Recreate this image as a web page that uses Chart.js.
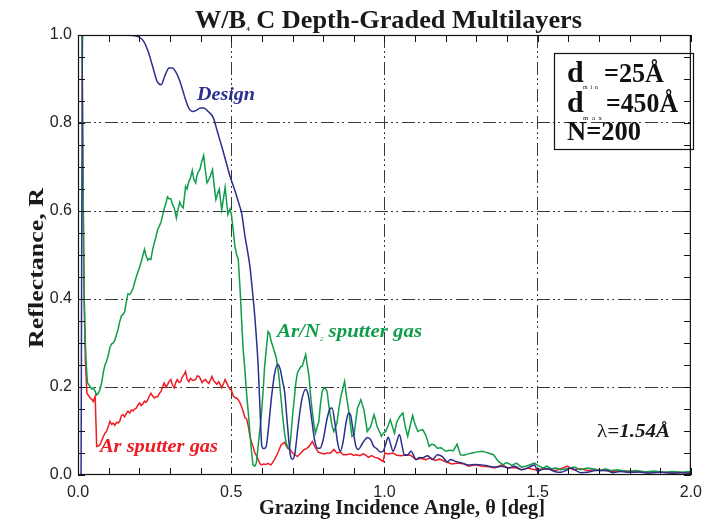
<!DOCTYPE html>
<html>
<head>
<meta charset="utf-8">
<script src="https://cdn.jsdelivr.net/npm/chart.js@4.4.1/dist/chart.umd.min.js"></script>
<style>
  html, body { margin: 0; padding: 0; background: #fff; }
  #wrap { width: 710px; height: 523px; }
</style>
</head>
<body>
<div id="wrap"><canvas id="reflChart" width="710" height="523"></canvas></div>
<script>
// Reflectance vs grazing angle, theoretical design and two measured samples
const designAngle = [0.010,0.015,0.100,0.180,0.200,0.215,0.230,0.245,0.258,0.271,0.285,0.297,0.308,0.320,0.335,0.350,0.362,0.373,0.385,0.400,0.410,0.425,0.442,0.455,0.469,0.483,0.496,0.508,0.518,0.528,0.534,0.545,0.553,0.561,0.569,0.577,0.588,0.594,0.600,0.606,0.614,0.622,0.632,0.642,0.652,0.660,0.667,0.674,0.684,0.693,0.700,0.708,0.718,0.730,0.743,0.752,0.762,0.772,0.782,0.790,0.800,0.812,0.822,0.829,0.838,0.848,0.856,0.865,0.875,0.883,0.890,0.898,0.907,0.915,0.925,0.932,0.945,0.955,0.965,0.975,0.987,0.996,1.004,1.012,1.020,1.028,1.038,1.049,1.057,1.065,1.075,1.087,1.097,1.103,1.114,1.125,1.141,1.157,1.173,1.189,1.205,1.216,1.232,1.254,1.275,1.296,1.318,1.340,1.361,1.383,1.404,1.425,1.447,1.468,1.479,1.490,1.500,1.511,1.533,1.555,1.575,1.597,1.608,1.625,1.641,1.662,1.690,1.726,1.745,1.770,1.800,1.830,1.860,1.900,1.940,1.970,2.000];
const designR = [0.000,1.000,1.000,0.999,0.995,0.985,0.960,0.925,0.895,0.887,0.910,0.925,0.925,0.915,0.890,0.855,0.833,0.826,0.828,0.834,0.834,0.826,0.811,0.780,0.747,0.712,0.679,0.655,0.633,0.610,0.595,0.542,0.510,0.474,0.420,0.360,0.247,0.150,0.065,0.060,0.065,0.110,0.180,0.232,0.251,0.240,0.215,0.190,0.110,0.045,0.036,0.050,0.110,0.170,0.195,0.180,0.130,0.080,0.061,0.061,0.080,0.125,0.150,0.152,0.120,0.070,0.054,0.075,0.120,0.141,0.135,0.100,0.065,0.058,0.068,0.076,0.085,0.080,0.065,0.060,0.052,0.054,0.070,0.086,0.070,0.054,0.070,0.092,0.068,0.046,0.045,0.054,0.042,0.035,0.040,0.039,0.044,0.035,0.046,0.042,0.030,0.035,0.031,0.027,0.023,0.024,0.023,0.020,0.018,0.020,0.016,0.020,0.012,0.016,0.020,0.023,0.008,0.012,0.014,0.008,0.006,0.012,0.016,0.010,0.005,0.006,0.010,0.010,0.005,0.008,0.006,0.007,0.004,0.006,0.004,0.005,0.004];

const arN2Angle = [0.008,0.013,0.016,0.020,0.024,0.027,0.031,0.040,0.045,0.050,0.056,0.061,0.066,0.072,0.077,0.083,0.088,0.093,0.099,0.104,0.110,0.115,0.120,0.126,0.131,0.136,0.142,0.147,0.152,0.158,0.163,0.169,0.174,0.180,0.185,0.190,0.195,0.201,0.206,0.212,0.217,0.222,0.228,0.233,0.238,0.243,0.249,0.254,0.260,0.265,0.271,0.276,0.281,0.287,0.292,0.297,0.303,0.308,0.314,0.321,0.326,0.332,0.337,0.343,0.347,0.351,0.356,0.362,0.367,0.373,0.378,0.384,0.388,0.392,0.398,0.403,0.410,0.415,0.421,0.426,0.432,0.439,0.444,0.450,0.455,0.461,0.465,0.469,0.475,0.480,0.485,0.489,0.496,0.501,0.506,0.512,0.518,0.523,0.529,0.534,0.539,0.545,0.550,0.556,0.561,0.566,0.571,0.577,0.582,0.590,0.598,0.604,0.609,0.615,0.620,0.625,0.630,0.636,0.642,0.647,0.652,0.657,0.663,0.668,0.674,0.679,0.685,0.690,0.695,0.700,0.706,0.711,0.716,0.722,0.727,0.732,0.738,0.743,0.748,0.754,0.759,0.765,0.770,0.775,0.781,0.786,0.791,0.797,0.802,0.808,0.813,0.818,0.824,0.829,0.835,0.840,0.845,0.851,0.858,0.864,0.870,0.876,0.883,0.889,0.894,0.901,0.906,0.912,0.918,0.923,0.928,0.933,0.939,0.944,0.950,0.955,0.960,0.966,0.971,0.976,0.983,0.990,0.996,1.004,1.012,1.019,1.026,1.033,1.040,1.049,1.055,1.060,1.068,1.076,1.084,1.092,1.100,1.109,1.117,1.125,1.135,1.146,1.154,1.162,1.173,1.185,1.200,1.212,1.225,1.237,1.248,1.260,1.273,1.286,1.300,1.318,1.330,1.339,1.356,1.372,1.388,1.396,1.404,1.415,1.431,1.447,1.460,1.470,1.490,1.500,1.517,1.530,1.545,1.560,1.575,1.597,1.620,1.640,1.662,1.680,1.705,1.720,1.740,1.760,1.790,1.820,1.850,1.880,1.910,1.940,1.970,2.000];
const arN2R = [1.000,1.000,0.709,0.406,0.300,0.250,0.209,0.201,0.195,0.198,0.190,0.182,0.185,0.195,0.209,0.235,0.250,0.258,0.272,0.290,0.298,0.300,0.306,0.320,0.332,0.348,0.362,0.365,0.370,0.395,0.412,0.410,0.416,0.425,0.438,0.450,0.460,0.472,0.484,0.500,0.513,0.498,0.488,0.492,0.490,0.510,0.528,0.540,0.558,0.565,0.575,0.590,0.604,0.618,0.632,0.628,0.628,0.615,0.607,0.584,0.602,0.620,0.612,0.607,0.630,0.656,0.650,0.668,0.675,0.692,0.672,0.664,0.680,0.688,0.695,0.710,0.726,0.695,0.664,0.670,0.680,0.694,0.660,0.626,0.638,0.650,0.625,0.603,0.630,0.654,0.620,0.592,0.605,0.590,0.560,0.520,0.500,0.490,0.421,0.350,0.285,0.235,0.186,0.140,0.095,0.055,0.023,0.020,0.027,0.080,0.133,0.190,0.247,0.290,0.326,0.322,0.305,0.292,0.278,0.266,0.245,0.215,0.170,0.133,0.095,0.073,0.062,0.058,0.090,0.133,0.175,0.210,0.232,0.240,0.246,0.248,0.262,0.274,0.250,0.224,0.180,0.141,0.115,0.095,0.110,0.122,0.160,0.190,0.198,0.196,0.190,0.160,0.133,0.112,0.099,0.108,0.118,0.150,0.179,0.196,0.213,0.180,0.148,0.115,0.088,0.092,0.120,0.152,0.162,0.171,0.160,0.148,0.122,0.099,0.105,0.110,0.122,0.137,0.125,0.110,0.100,0.088,0.095,0.099,0.112,0.126,0.110,0.095,0.120,0.132,0.137,0.141,0.110,0.088,0.112,0.135,0.115,0.099,0.102,0.103,0.090,0.065,0.070,0.069,0.061,0.062,0.054,0.056,0.055,0.070,0.046,0.045,0.048,0.050,0.052,0.054,0.052,0.050,0.046,0.031,0.023,0.028,0.027,0.022,0.027,0.018,0.020,0.022,0.027,0.022,0.016,0.020,0.014,0.016,0.012,0.014,0.018,0.012,0.016,0.014,0.010,0.014,0.010,0.012,0.008,0.010,0.007,0.009,0.006,0.008,0.006,0.008];

const arAngle = [0.008,0.013,0.016,0.019,0.022,0.024,0.029,0.035,0.040,0.045,0.050,0.056,0.061,0.066,0.072,0.077,0.083,0.088,0.093,0.099,0.104,0.110,0.115,0.120,0.126,0.131,0.136,0.142,0.147,0.152,0.158,0.163,0.169,0.174,0.180,0.185,0.190,0.195,0.201,0.206,0.212,0.217,0.222,0.228,0.233,0.238,0.243,0.249,0.254,0.260,0.265,0.271,0.276,0.281,0.287,0.292,0.297,0.303,0.308,0.314,0.319,0.324,0.330,0.335,0.340,0.346,0.351,0.356,0.362,0.367,0.373,0.378,0.384,0.389,0.395,0.400,0.405,0.411,0.416,0.421,0.427,0.432,0.437,0.443,0.448,0.453,0.459,0.464,0.469,0.475,0.480,0.485,0.491,0.496,0.501,0.507,0.512,0.517,0.523,0.530,0.539,0.545,0.550,0.556,0.561,0.566,0.571,0.577,0.582,0.588,0.593,0.598,0.605,0.612,0.620,0.630,0.641,0.652,0.663,0.674,0.684,0.692,0.700,0.708,0.716,0.727,0.738,0.746,0.754,0.765,0.775,0.784,0.792,0.803,0.813,0.824,0.835,0.845,0.856,0.866,0.877,0.888,0.899,0.910,0.920,0.930,0.937,0.948,0.958,0.969,0.980,0.990,0.996,1.001,1.012,1.028,1.040,1.055,1.070,1.085,1.103,1.118,1.135,1.150,1.165,1.180,1.200,1.220,1.240,1.260,1.275,1.295,1.318,1.340,1.360,1.383,1.404,1.425,1.447,1.468,1.490,1.511,1.533,1.555,1.575,1.597,1.615,1.640,1.662,1.690,1.720,1.750,1.780,1.810,1.840,1.870,1.900,1.930,1.960,2.000];
const arR = [1.000,1.000,0.700,0.450,0.330,0.260,0.186,0.180,0.175,0.172,0.167,0.179,0.065,0.066,0.069,0.078,0.088,0.095,0.099,0.110,0.122,0.115,0.118,0.113,0.120,0.118,0.122,0.135,0.137,0.132,0.140,0.145,0.141,0.148,0.146,0.150,0.152,0.158,0.164,0.158,0.162,0.168,0.165,0.171,0.180,0.186,0.180,0.175,0.178,0.178,0.185,0.190,0.200,0.209,0.200,0.205,0.212,0.217,0.205,0.198,0.210,0.217,0.210,0.212,0.222,0.228,0.235,0.218,0.212,0.220,0.216,0.215,0.217,0.225,0.224,0.218,0.210,0.215,0.217,0.212,0.208,0.216,0.224,0.214,0.210,0.206,0.212,0.206,0.198,0.208,0.217,0.210,0.200,0.195,0.192,0.179,0.176,0.175,0.171,0.162,0.145,0.130,0.128,0.110,0.088,0.075,0.065,0.050,0.045,0.035,0.027,0.023,0.025,0.024,0.026,0.023,0.035,0.050,0.069,0.074,0.061,0.058,0.050,0.046,0.042,0.050,0.058,0.060,0.065,0.076,0.062,0.052,0.050,0.048,0.050,0.050,0.058,0.050,0.052,0.046,0.046,0.048,0.045,0.046,0.044,0.048,0.046,0.040,0.044,0.040,0.038,0.033,0.031,0.050,0.048,0.050,0.045,0.044,0.046,0.045,0.035,0.038,0.035,0.039,0.033,0.036,0.030,0.025,0.027,0.025,0.020,0.023,0.020,0.019,0.016,0.023,0.016,0.017,0.012,0.016,0.012,0.013,0.014,0.010,0.014,0.020,0.012,0.014,0.010,0.012,0.010,0.008,0.010,0.007,0.008,0.006,0.007,0.005,0.006,0.004];

const xTickLabels = ['0.0', '0.5', '1.0', '1.5', '2.0'];
const yTickLabels = ['0.0', '0.2', '0.4', '0.6', '0.8', '1.0'];

const BLUE = '#2b2f8e';
const GREEN = '#0f9d4a';
const RED = '#ed1c24';
const SERIF = '"Liberation Serif", "Times New Roman", serif';

function toPoints(xs, ys) {
    return xs.map((x, i) => ({ x: x, y: ys[i] }));
}

// draws a sequence of text runs, squeezed/stretched to a given total width
function drawRuns(ctx, runs, x, y, width, color) {
    ctx.save();
    let total = 0;
    runs.forEach(r => {
        ctx.font = r.font;
        r.w = ctx.measureText(r.t).width + (r.gap || 0);
        total += r.w;
    });
    const s = width ? width / total : 1;
    ctx.translate(x, y);
    ctx.scale(s, 1);
    ctx.fillStyle = color;
    ctx.textBaseline = 'alphabetic';
    ctx.textAlign = 'left';
    let cx = 0;
    runs.forEach(r => {
        ctx.font = r.font;
        ctx.fillText(r.t, cx, r.dy || 0);
        cx += r.w;
    });
    ctx.restore();
}

const framePlugin = {
    id: 'frame',
    afterDatasetsDraw(chart) {
        const { ctx, chartArea: a, scales: { x, y } } = chart;
        ctx.save();
        ctx.strokeStyle = '#111';
        ctx.lineWidth = 1;
        ctx.beginPath();
        for (let i = 0; i <= 20; i++) {
            const px = Math.round(x.getPixelForValue(i / 10)) + 0.5;
            ctx.moveTo(px, a.bottom); ctx.lineTo(px, a.bottom - 7);
            ctx.moveTo(px, a.top); ctx.lineTo(px, a.top + 7);
        }
        for (let i = 0; i <= 20; i++) {
            const py = Math.round(y.getPixelForValue(i / 20)) + 0.5;
            ctx.moveTo(a.left, py); ctx.lineTo(a.left + 7, py);
            ctx.moveTo(a.right, py); ctx.lineTo(a.right - 7, py);
        }
        ctx.stroke();
        ctx.lineWidth = 1.2;
        ctx.strokeRect(a.left + 0.5, a.top + 0.5, a.right - a.left - 1, a.bottom - a.top - 1);
        ctx.restore();
    },
    afterDraw(chart) {
        const ctx = chart.ctx;
        const B = sz => 'bold ' + sz + 'px ' + SERIF;
        const BI = sz => 'italic bold ' + sz + 'px ' + SERIF;

        // title
        drawRuns(ctx, [
            { t: 'W/B', font: B(26) },
            { t: '4', font: B(7), dy: 3 },
            { t: ' C Depth-Graded Multilayers', font: B(26) }
        ], 195, 28, 387, '#1a1a1a');

        // axis titles
        drawRuns(ctx, [{ t: 'Grazing Incidence Angle, \u03b8 [deg]', font: B(20) }], 259, 514, 286, '#1a1a1a');
        ctx.save();
        ctx.translate(43, 348);
        ctx.rotate(-Math.PI / 2);
        drawRuns(ctx, [{ t: 'Reflectance, R', font: B(20) }], 0, 0, 160, '#1a1a1a');
        ctx.restore();

        // curve labels
        drawRuns(ctx, [{ t: 'Design', font: BI(18) }], 197, 100, 58, BLUE);
        drawRuns(ctx, [
            { t: 'Ar/N', font: BI(18) },
            { t: '2', font: 'italic 6px ' + SERIF, dy: 4 },
            { t: ' sputter gas', font: BI(18) }
        ], 277, 337, 145, GREEN);
        drawRuns(ctx, [{ t: 'Ar sputter gas', font: BI(18) }], 100, 452, 118, RED);
        drawRuns(ctx, [
            { t: '\u03bb', font: '18px ' + SERIF },
            { t: '=1.54\u00c5', font: BI(18) }
        ], 597, 437, 73, '#1a1a1a');

        // parameter box
        ctx.save();
        ctx.strokeStyle = '#111';
        ctx.lineWidth = 1.2;
        ctx.strokeRect(554.5, 53.5, 139, 96);
        ctx.restore();
        drawRuns(ctx, [{ t: 'd', font: B(30) }], 567, 82, 0, '#111');
        drawRuns(ctx, [{ t: 'm  i  n', font: '6px ' + SERIF }], 583, 89, 15, '#111');
        drawRuns(ctx, [{ t: '=25\u00c5', font: B(28) }], 604, 82, 60, '#111');
        drawRuns(ctx, [{ t: 'd', font: B(30) }], 567, 112, 0, '#111');
        drawRuns(ctx, [{ t: 'm  a  x', font: '6px ' + SERIF }], 583, 120, 19, '#111');
        drawRuns(ctx, [{ t: '=450\u00c5', font: B(28) }], 606, 112, 72, '#111');
        drawRuns(ctx, [{ t: 'N=200', font: B(28) }], 567, 140, 74, '#111');
    }
};

const gridColor = (lo, hi) => c => (c.tick && c.tick.value > lo + 1e-6 && c.tick.value < hi - 1e-6) ? '#3a3a3a' : 'rgba(0,0,0,0)';

new Chart(document.getElementById('reflChart'), {
    type: 'scatter',
    data: {
        datasets: [
            { label: 'Design', data: toPoints(designAngle, designR), borderColor: BLUE, borderWidth: 1.5,
              showLine: true, pointRadius: 0, cubicInterpolationMode: 'monotone', order: 0 },
            { label: 'Ar/N2 sputter gas', data: toPoints(arN2Angle, arN2R), borderColor: GREEN, borderWidth: 1.5,
              showLine: true, pointRadius: 0, tension: 0, order: 1 },
            { label: 'Ar sputter gas', data: toPoints(arAngle, arR), borderColor: RED, borderWidth: 1.5,
              showLine: true, pointRadius: 0, tension: 0, order: 2 }
        ]
    },
    options: {
        responsive: false,
        animation: false,
        events: [],
        layout: { padding: { top: 35, right: 12, left: 0, bottom: 0 } },
        plugins: { legend: { display: false }, tooltip: { enabled: false } },
        scales: {
            x: {
                type: 'linear', min: 0, max: 2,
                afterFit: s => { s.height = 48; },
                ticks: { stepSize: 0.5, padding: 8, color: '#222', autoSkip: false, maxRotation: 0,
                         font: { family: 'Liberation Sans', size: 16 },
                         callback: (v, i) => xTickLabels[i] },
                grid: { color: gridColor(0, 2), lineWidth: 1, drawTicks: false },
                border: { display: false, dash: [13, 3, 2, 3, 2, 4] }
            },
            y: {
                type: 'linear', min: 0, max: 1,
                afterFit: s => { s.width = 78; },
                ticks: { stepSize: 0.2, padding: 6, color: '#222', autoSkip: false,
                         font: { family: 'Liberation Sans', size: 16 },
                         callback: (v, i) => yTickLabels[i] },
                grid: { color: gridColor(0, 1), lineWidth: 1, drawTicks: false },
                border: { display: false, dash: [13, 3, 2, 3, 2, 4] }
            }
        }
    },
    plugins: [framePlugin]
});
</script>
</body>
</html>
